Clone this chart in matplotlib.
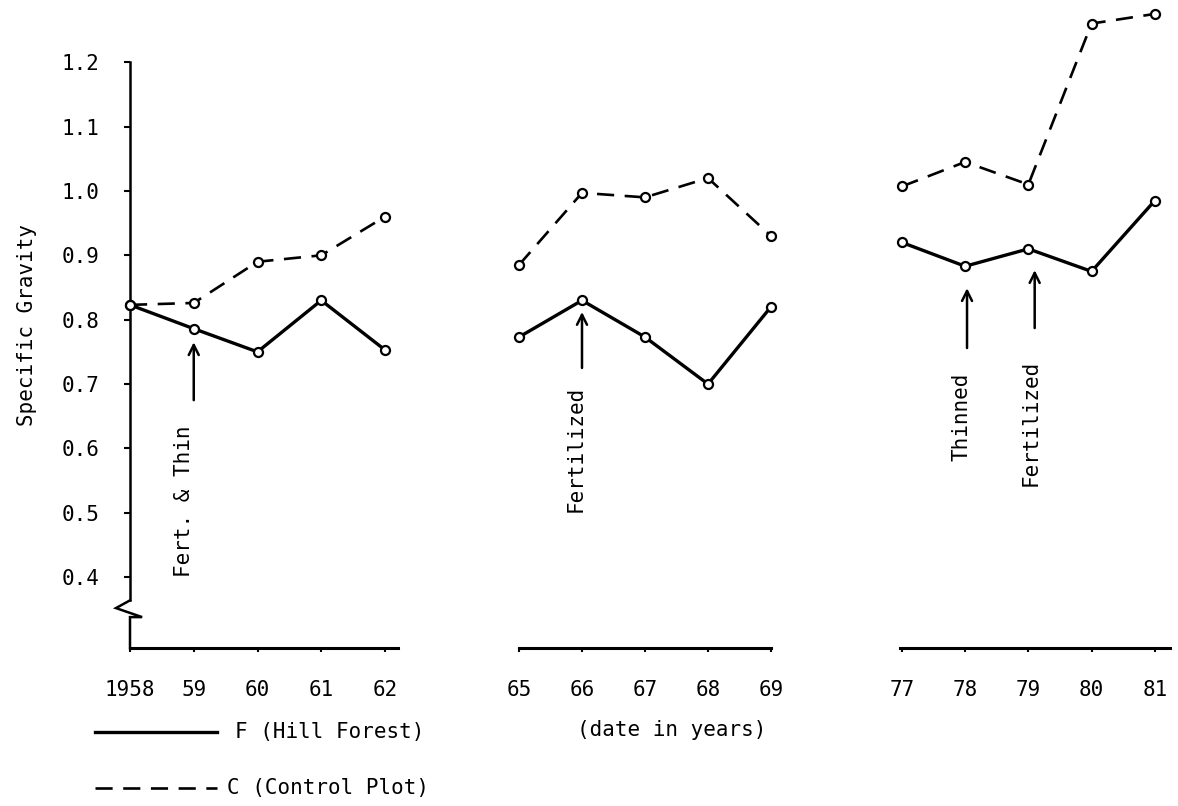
import matplotlib
matplotlib.use("Agg")
import matplotlib.pyplot as plt
from matplotlib.lines import Line2D

plt.rcParams['font.family'] = 'DejaVu Sans Mono'
plt.rcParams['font.size'] = 15

# data
years_a = [1958, 1959, 1960, 1961, 1962]
f_a = [0.823, 0.786, 0.750, 0.830, 0.753]
c_a = [0.823, 0.826, 0.890, 0.900, 0.960]

years_b = [1965, 1966, 1967, 1968, 1969]
f_b = [0.773, 0.830, 0.773, 0.700, 0.820]
c_b = [0.885, 0.997, 0.990, 1.020, 0.930]

years_c = [1977, 1978, 1979, 1980, 1981]
f_c = [0.920, 0.883, 0.910, 0.875, 0.985]
c_c = [1.007, 1.045, 1.010, 1.260, 1.275]

labels_a = ["1958", "59", "60", "61", "62"]
labels_b = ["65", "66", "67", "68", "69"]
labels_c = ["77", "78", "79", "80", "81"]

yticks = [0.4, 0.5, 0.6, 0.7, 0.8, 0.9, 1.0, 1.1, 1.2]

W, H = 1178, 806
fig = plt.figure(figsize=(W / 100, H / 100), dpi=100)

bottom = (H - 648) / H
height = 643.75 / H
ylim = (0.29, 1.29)
dash = (6.5, 4)

ax1 = fig.add_axes([130 / W, bottom, 267.75 / W, height])
ax2 = fig.add_axes([519 / W, bottom, 252 / W, height])
ax3 = fig.add_axes([900 / W, bottom, 270 / W, height])

panels = [
    (ax1, years_a, f_a, c_a, labels_a, (1958, 1962.2)),
    (ax2, years_b, f_b, c_b, labels_b, (1965, 1969)),
    (ax3, years_c, f_c, c_c, labels_c, (1976.97, 1981.24)),
]

for ax, yrs, f, c, labs, xl in panels:
    ax.plot(yrs, f, color='black', lw=2.4, marker='o', ms=6.5,
            mfc='white', mec='black', mew=1.6, clip_on=False, zorder=3)
    ax.plot(yrs, c, color='black', lw=1.9, dashes=dash, marker='o',
            ms=6.5, mfc='white', mec='black', mew=1.6, clip_on=False, zorder=3)
    ax.set_xlim(*xl)
    ax.set_ylim(*ylim)
    ax.set_xticks(yrs)
    ax.set_xticklabels(labs)
    ax.tick_params(axis='x', direction='out', length=3, width=1.5, pad=20)
    for s in ['top', 'right', 'left']:
        ax.spines[s].set_visible(False)
    ax.spines['bottom'].set_linewidth(2.2)
    ax.patch.set_visible(False)
    if ax is not ax1:
        ax.set_yticks([])

# left axis with a break near the bottom
brk_hi, brk_lo = 0.364, 0.338
ax1.spines['left'].set_visible(True)
ax1.spines['left'].set_linewidth(1.8)
ax1.spines['left'].set_bounds(brk_hi, 1.2)
ax1.plot([1958, 1957.78, 1958.19, 1958, 1958],
         [brk_hi, 0.352, brk_lo, brk_lo, ylim[0]],
         color='black', lw=1.8, clip_on=False, solid_joinstyle='miter')
ax1.set_yticks(yticks)
ax1.set_yticklabels([f"{v:.1f}" for v in yticks])
ax1.tick_params(axis='y', direction='out', length=4, width=1.5, pad=18)

fig.text(27 / W, 1 - 325 / H, "Specific Gravity", rotation=90,
         ha='center', va='center')

arrow = dict(arrowstyle='->', lw=1.8, color='black',
             mutation_scale=18, shrinkA=0, shrinkB=0)

# treatment notes
ax1.annotate('', xy=(1959, 0.765), xytext=(1959, 0.675), arrowprops=arrow)
ax1.text(1958.85, 0.636, "Fert. & Thin", rotation=90, ha='center', va='top')

ax2.annotate('', xy=(1966, 0.812), xytext=(1966, 0.725), arrowprops=arrow)
ax2.text(1965.9, 0.698, "Fertilized", rotation=90, ha='center', va='top')

ax3.annotate('', xy=(1978.03, 0.849), xytext=(1978.03, 0.756), arrowprops=arrow)
ax3.text(1977.95, 0.717, "Thinned", rotation=90, ha='center', va='top')

ax3.annotate('', xy=(1979.1, 0.877), xytext=(1979.1, 0.787), arrowprops=arrow)
ax3.text(1979.03, 0.737, "Fertilized", rotation=90, ha='center', va='top')

fig.text(672 / W, 1 - 730 / H, "(date in years)", ha='center', va='center')

# legend drawn by hand below the axes
fig.add_artist(Line2D([95 / W, 217 / W], [1 - 732 / H] * 2, color='black', lw=2.4))
fig.text(235 / W, 1 - 732 / H, "F (Hill Forest)", ha='left', va='center')
fig.add_artist(Line2D([95 / W, 217 / W], [1 - 788 / H] * 2, color='black',
                      lw=1.9, dashes=dash))
fig.text(227 / W, 1 - 788 / H, "C (Control Plot)", ha='left', va='center')

fig.savefig("out.png", dpi=100, facecolor='white')
